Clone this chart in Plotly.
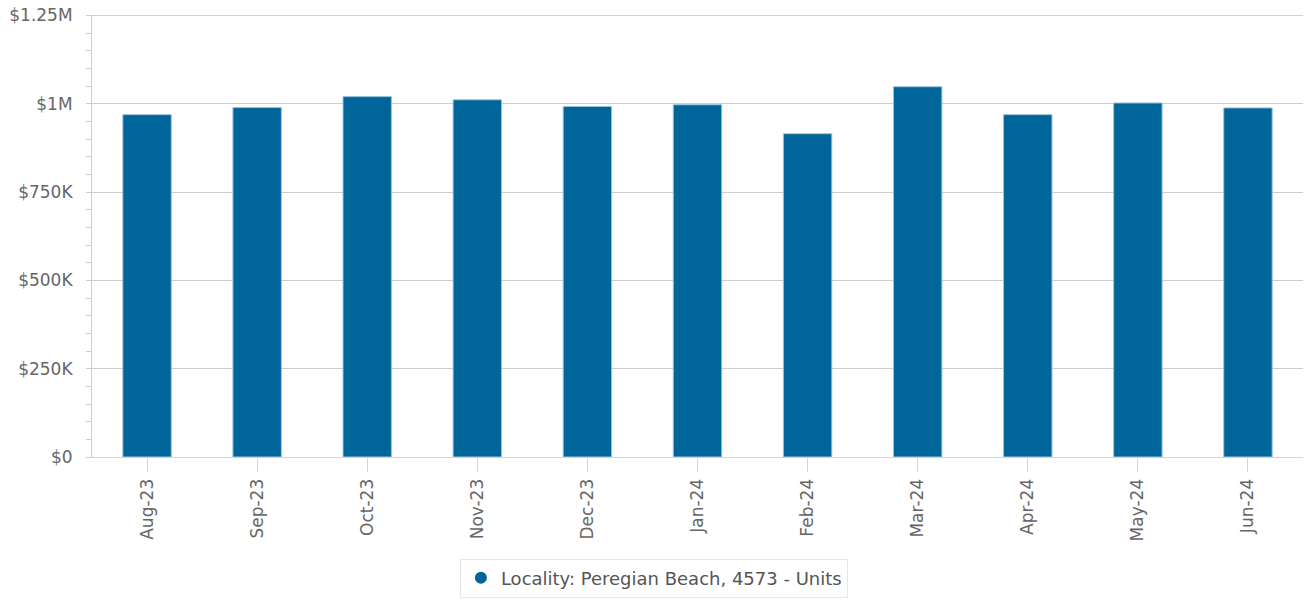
import plotly.graph_objects as go

months = ["Aug-23", "Sep-23", "Oct-23", "Nov-23", "Dec-23", "Jan-24",
          "Feb-24", "Mar-24", "Apr-24", "May-24", "Jun-24"]
values = [969000, 989000, 1020000, 1011000, 992000, 997000,
          915000, 1048000, 969000, 1002000, 988000]
series_name = "Locality: Peregian Beach, 4573 - Units"
ytick_vals = [0, 250000, 500000, 750000, 1000000, 1250000]
ytick_text = ["$0", "$250K", "$500K", "$750K", "$1M", "$1.25M"]

BAR = "#006699"
FONT = "DejaVu Sans"

fig = go.Figure()
fig.add_trace(go.Bar(
    x=months, y=values, name=series_name, showlegend=False,
    marker=dict(color=BAR, line=dict(color="#9cc3dd", width=1)),
    width=0.44,
))
fig.add_trace(go.Scatter(
    x=[None], y=[None], mode="markers", name=series_name,
    marker=dict(color=BAR, size=17, symbol="circle"),
))

# top gridline (plotly omits the gridline at the range edge)
fig.add_shape(type="line", xref="paper", x0=0, x1=1, yref="y",
              y0=ytick_vals[-1], y1=ytick_vals[-1],
              line=dict(color="#cccccc", width=1), layer="below")

fig.update_layout(
    width=1306, height=602,
    margin=dict(l=92, r=3, t=15, b=145),
    plot_bgcolor="white", paper_bgcolor="white",
    font=dict(family=FONT, size=17, color="#666666"),
    legend=dict(
        orientation="h", x=0.464, xanchor="center",
        y=-0.23, yanchor="top",
        bordercolor="#e6e6e6", borderwidth=1, bgcolor="white",
        font=dict(family=FONT, size=18, color="#555555"),
        itemsizing="constant",
    ),
    xaxis=dict(
        type="category", tickangle=-90, showgrid=False, automargin=False,
        showline=True, linecolor="#ccd6eb", linewidth=1,
        ticks="outside", ticklen=14, tickcolor="#ccd6eb",
        tickfont=dict(family=FONT, size=17, color="#666666"),
        range=[-0.5, len(months) - 0.5],
    ),
    yaxis=dict(
        range=[0, 1251000], tickvals=ytick_vals, ticktext=ytick_text,
        automargin=False, ticklabeloverflow="allow",
        showgrid=True, gridcolor="#cccccc", gridwidth=1,
        showline=True, linecolor="#cccccc", linewidth=1,
        ticks="outside", ticklen=5, tickcolor="#cccccc",
        ticklabelstandoff=10,
        zeroline=False,
        minor=dict(dtick=50000, ticks="outside", ticklen=5, tickcolor="#cccccc", showgrid=False),
        tickfont=dict(family=FONT, size=17, color="#666666"),
    ),
)

fig.write_html(
    "out.html",
    config={"displayModeBar": False},
    post_script="document.body.style.margin='0';document.body.style.overflow='hidden';",
)
